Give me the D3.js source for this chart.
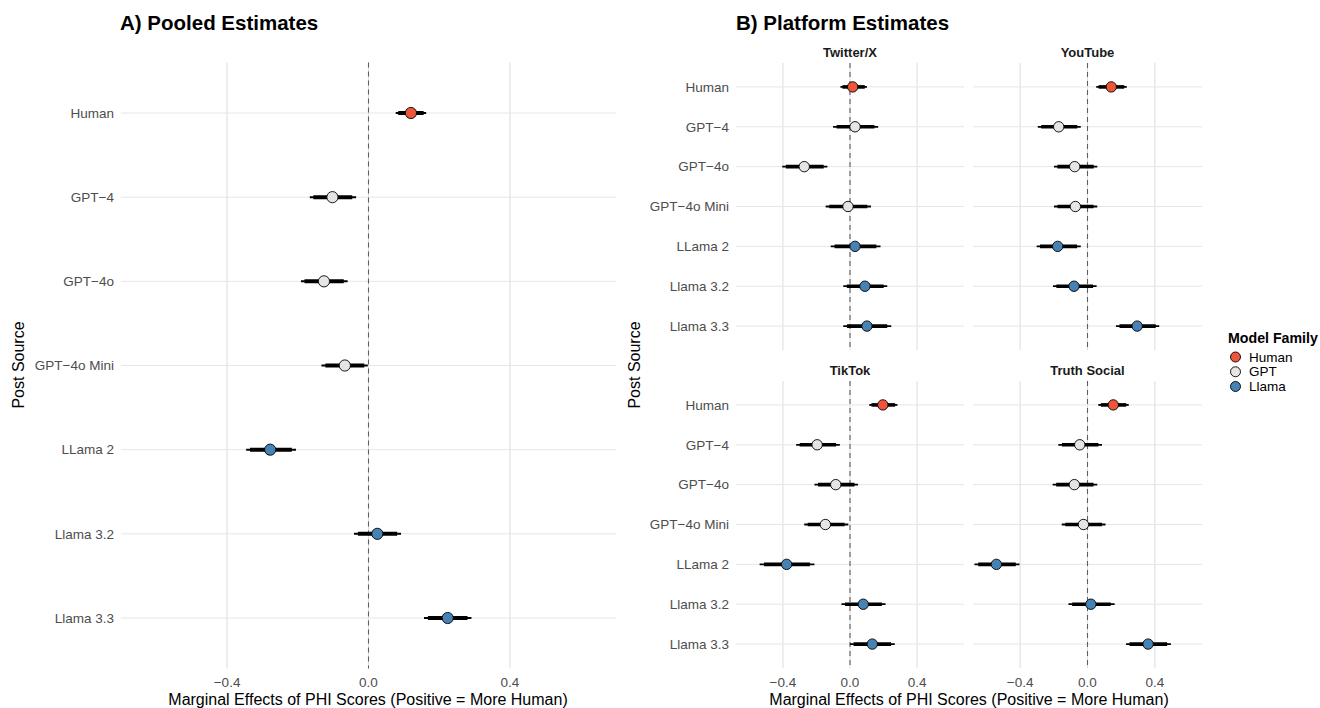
<!DOCTYPE html>
<html><head><meta charset="utf-8">
<script src="https://cdn.jsdelivr.net/npm/d3@7"></script>
<style>
body{margin:0;background:#fff;}
svg{font-family:"Liberation Sans",Arial,Helvetica,sans-serif;}
</style></head>
<body><svg id="chart" width="1320" height="708"></svg>
<script>
// ---------- DATA ----------
const sources = ["Human","GPT\u22124","GPT\u22124o","GPT\u22124o Mini","LLama 2","Llama 3.2","Llama 3.3"];
const families = ["Human","GPT","GPT","GPT","Llama","Llama","Llama"];
const familyNames = ["Human","GPT","Llama"];
const familyColors = ["#EE553B","#E5E5E5","#4682B4"];
const xTicks = [-0.4, 0.0, 0.4];

const pooledEst  = [0.120,-0.102,-0.126,-0.067,-0.278, 0.025, 0.224];
const pooledLo95 = [0.077,-0.166,-0.191,-0.133,-0.346,-0.041, 0.157];
const pooledHi95 = [0.163,-0.035,-0.059,-0.002,-0.205, 0.092, 0.291];
const pooledLo90 = [0.084,-0.156,-0.181,-0.122,-0.335,-0.030, 0.168];
const pooledHi90 = [0.156,-0.046,-0.070,-0.012,-0.217, 0.081, 0.280];

const platforms = ["Twitter/X","YouTube","TikTok","Truth Social"];
const platformEst = [
  [0.016, 0.030,-0.273,-0.012, 0.030, 0.089, 0.101],
  [0.141,-0.171,-0.076,-0.072,-0.177,-0.080, 0.295],
  [0.196,-0.196,-0.085,-0.147,-0.378, 0.079, 0.133],
  [0.153,-0.046,-0.078,-0.024,-0.541, 0.020, 0.360]
];
const platformLo95 = [
  [-0.057,-0.101,-0.404,-0.145,-0.115,-0.040,-0.040],
  [ 0.052,-0.295,-0.199,-0.199,-0.302,-0.205, 0.169],
  [ 0.115,-0.321,-0.212,-0.273,-0.539,-0.051, 0.000],
  [ 0.064,-0.173,-0.207,-0.153,-0.671,-0.113, 0.229]
];
const platformHi95 = [
  [0.101, 0.168,-0.135, 0.125, 0.182, 0.222, 0.246],
  [0.233,-0.040, 0.058, 0.058,-0.040, 0.054, 0.426],
  [0.283,-0.061, 0.048,-0.010,-0.212, 0.212, 0.267],
  [0.245, 0.086, 0.058, 0.107,-0.404, 0.161, 0.495]
];
const platformLo90 = [
  [-0.045,-0.080,-0.383,-0.124,-0.092,-0.019,-0.018],
  [ 0.066,-0.275,-0.179,-0.178,-0.282,-0.185, 0.190],
  [ 0.128,-0.300,-0.191,-0.252,-0.513,-0.030, 0.021],
  [ 0.079,-0.152,-0.186,-0.132,-0.649,-0.091, 0.250]
];
const platformHi90 = [
  [0.088, 0.146,-0.157, 0.103, 0.157, 0.201, 0.222],
  [0.218,-0.061, 0.037, 0.036,-0.062, 0.033, 0.405],
  [0.269,-0.083, 0.027,-0.032,-0.239, 0.190, 0.245],
  [0.230, 0.065, 0.036, 0.086,-0.426, 0.138, 0.473]
];

// ---------- DRAW ----------
const svg = d3.select("#chart");
const color = d3.scaleOrdinal().domain(familyNames).range(familyColors);
const TICK_COL = "#4d4d4d";
const AXIS_TITLE = "Marginal Effects of PHI Scores (Positive = More Human)";

function drawPanel(g, x, y, est, lo95, hi95, lo90, hi90, opts) {
  const [x0, x1] = x.range();
  const [y0, y1] = y.range();
  g.selectAll(".vg").data(xTicks).join("line")
    .attr("x1", d => x(d)).attr("x2", d => x(d))
    .attr("y1", y0).attr("y2", y1)
    .attr("stroke", "#dcdcdc").attr("stroke-width", 1);
  g.selectAll(".hg").data(sources).join("line")
    .attr("x1", x0).attr("x2", x1)
    .attr("y1", d => y(d)).attr("y2", d => y(d))
    .attr("stroke", "#e6e6e6").attr("stroke-width", 1);
  g.append("line").attr("x1", x(0)).attr("x2", x(0)).attr("y1", y0).attr("y2", y1)
    .attr("stroke", "#5e5e5e").attr("stroke-width", 1.1).attr("stroke-dasharray", "5,4");
  const rows = sources.map((s, i) => ({s, f: families[i], e: est[i], l95: lo95[i], h95: hi95[i], l90: lo90[i], h90: hi90[i]}));
  g.selectAll(".thin").data(rows).join("line")
    .attr("x1", d => x(d.l95)).attr("x2", d => x(d.h95))
    .attr("y1", d => y(d.s)).attr("y2", d => y(d.s))
    .attr("stroke", "#000").attr("stroke-width", opts.thin);
  g.selectAll(".thick").data(rows).join("line")
    .attr("x1", d => x(d.l90)).attr("x2", d => x(d.h90))
    .attr("y1", d => y(d.s)).attr("y2", d => y(d.s))
    .attr("stroke", "#000").attr("stroke-width", opts.thick);
  g.selectAll(".pt").data(rows).join("circle")
    .attr("cx", d => x(d.e)).attr("cy", d => y(d.s)).attr("r", opts.r)
    .attr("fill", d => color(d.f)).attr("stroke", "#000").attr("stroke-width", 0.9);
  if (opts.yLabels) {
    g.selectAll(".yl").data(sources).join("text")
      .attr("x", opts.yLabelX).attr("y", d => y(d)).attr("dy", "0.35em")
      .attr("text-anchor", "end").attr("fill", TICK_COL).attr("font-size", 13.5)
      .text(d => d);
  }
  if (opts.xLabels) {
    g.selectAll(".xl").data(xTicks).join("text")
      .attr("x", d => x(d)).attr("y", opts.xLabelY)
      .attr("text-anchor", "middle").attr("fill", TICK_COL).attr("font-size", 13.5)
      .text(d => d3.format(".1f")(d).replace("-", "\u2212"));
  }
}

// Panel A
const xA = d3.scaleLinear().domain([-0.7, 0.7]).range([121, 616]);
const yA = d3.scalePoint().domain(sources).range([62.5, 668.5]).padding(0.6);
const gA = svg.append("g");
drawPanel(gA, xA, yA, pooledEst, pooledLo95, pooledHi95, pooledLo90, pooledHi90,
  {r: 5.6, thick: 4, thin: 2, yLabels: true, yLabelX: 114, xLabels: true, xLabelY: 687});
svg.append("text").attr("x", 120).attr("y", 30).attr("font-size", 20.5).attr("font-weight", "bold")
  .attr("fill", "#000").text("A) Pooled Estimates");
svg.append("text").attr("transform", "translate(24,365) rotate(-90)").attr("text-anchor", "middle")
  .attr("font-size", 16).attr("fill", "#000").text("Post Source");
svg.append("text").attr("x", 368).attr("y", 705).attr("text-anchor", "middle")
  .attr("font-size", 16).attr("fill", "#000").text(AXIS_TITLE);

// Panel B
const colRanges = [[736, 964], [973, 1202]];
const rowRanges = [[63, 350], [381, 668]];
platforms.forEach((p, k) => {
  const c = k % 2, r = Math.floor(k / 2);
  const x = d3.scaleLinear().domain([-0.68, 0.68]).range(colRanges[c]);
  const y = d3.scalePoint().domain(sources).range(rowRanges[r]).padding(0.6);
  const g = svg.append("g");
  drawPanel(g, x, y, platformEst[k], platformLo95[k], platformHi95[k], platformLo90[k], platformHi90[k],
    {r: 5.2, thick: 3.6, thin: 1.8, yLabels: c === 0, yLabelX: 729, xLabels: r === 1, xLabelY: 687});
  svg.append("text").attr("x", (colRanges[c][0] + colRanges[c][1]) / 2).attr("y", rowRanges[r][0] - 6.5)
    .attr("text-anchor", "middle").attr("font-size", 13).attr("font-weight", "bold")
    .attr("fill", "#1a1a1a").text(p);
});
svg.append("text").attr("x", 736).attr("y", 30).attr("font-size", 20.5).attr("font-weight", "bold")
  .attr("fill", "#000").text("B) Platform Estimates");
svg.append("text").attr("transform", "translate(640,365) rotate(-90)").attr("text-anchor", "middle")
  .attr("font-size", 16).attr("fill", "#000").text("Post Source");
svg.append("text").attr("x", 969).attr("y", 705).attr("text-anchor", "middle")
  .attr("font-size", 16).attr("fill", "#000").text(AXIS_TITLE);

// Legend
const lg = svg.append("g");
lg.append("text").attr("x", 1228).attr("y", 343).attr("font-size", 14.2).attr("font-weight", "bold")
  .attr("fill", "#000").text("Model Family");
const ly = d3.scalePoint().domain(familyNames).range([357, 386.5]);
lg.selectAll(".lc").data(familyNames).join("circle")
  .attr("cx", 1235.5).attr("cy", d => ly(d)).attr("r", 5)
  .attr("fill", d => color(d)).attr("stroke", "#000").attr("stroke-width", 0.9);
lg.selectAll(".lt").data(familyNames).join("text")
  .attr("x", 1249).attr("y", d => ly(d)).attr("dy", "0.35em").attr("font-size", 13.5)
  .attr("fill", "#000").text(d => d);
</script></body></html>
